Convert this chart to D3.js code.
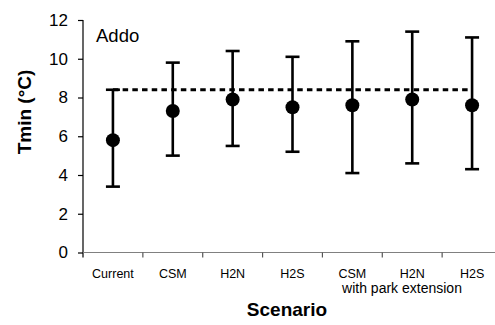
<!DOCTYPE html>
<html>
<head>
<meta charset="utf-8">
<script src="https://cdn.jsdelivr.net/npm/d3@7"></script>
<style>
  body { margin: 0; background: #fff; }
  svg { display: block; font-family: "Liberation Sans", Arial, sans-serif; }
</style>
</head>
<body>
<div id="chart"></div>
<script>
(function () {
    "use strict";
    // scenario data
    var categories = ["Current", "CSM", "H2N", "H2S", "CSM2", "H2N2", "H2S2"];
    var labels = ["Current", "CSM", "H2N", "H2S", "CSM", "H2N", "H2S"];
    var means = [5.8, 7.3, 7.9, 7.5, 7.6, 7.9, 7.6];
    var lows = [3.4, 5.0, 5.5, 5.2, 4.1, 4.6, 4.3];
    var highs = [8.4, 9.8, 10.4, 10.1, 10.9, 11.4, 11.1];
    var yTicks = [0, 2, 4, 6, 8, 10, 12];
    var refLine = 8.4;

    var w = 495, h = 325;
    var left = 83, right = 502, top = 20, bottom = 252.5;

    var svg = d3.select('#chart').append('svg').attr('width', w).attr('height', h);

    var x = d3.scaleBand().domain(categories).range([left, right]);
    var y = d3.scaleLinear().domain([0, 12]).range([bottom, top]);

    // y axis
    var yAxis = svg.append('g').attr('transform', 'translate(' + left + ',0)')
        .call(d3.axisLeft(y).tickValues(yTicks).tickSize(5).tickSizeOuter(0).tickPadding(10));
    yAxis.select('.domain').attr('stroke', '#000').attr('stroke-width', 1.2)
        .attr('d', 'M0,' + top + 'V' + (bottom + 5));
    yAxis.selectAll('.tick line').attr('stroke', '#000').attr('stroke-width', 1.2);
    yAxis.selectAll('.tick text').attr('font-size', 17).attr('fill', '#000')
        .attr('font-family', '"Liberation Sans", Arial, sans-serif');

    // x axis: line and ticks on band edges
    svg.append('line').attr('x1', left).attr('x2', right).attr('y1', bottom).attr('y2', bottom)
        .attr('stroke', '#808080').attr('stroke-width', 1.2);
    svg.selectAll('.xtick').data(categories.slice(1)).enter().append('line')
        .attr('class', 'xtick')
        .attr('x1', function (d) { return x(d); })
        .attr('x2', function (d) { return x(d); })
        .attr('y1', bottom).attr('y2', bottom + 5)
        .attr('stroke', '#555').attr('stroke-width', 1.2);

    svg.selectAll('.xlabel').data(categories).enter().append('text')
        .attr('class', 'xlabel')
        .attr('x', function (d) { return x(d) + x.bandwidth() / 2; })
        .attr('y', 278)
        .attr('text-anchor', 'middle')
        .attr('font-size', 12.5)
        .text(function (d, i) { return labels[i]; });

    svg.append('text').attr('x', 402).attr('y', 293).attr('text-anchor', 'middle')
        .attr('font-size', 14).text('with park extension');

    svg.append('text').attr('x', 287).attr('y', 316).attr('text-anchor', 'middle')
        .attr('font-size', 19).attr('font-weight', 'bold').text('Scenario');

    svg.append('text').attr('transform', 'translate(31,112) rotate(-90)')
        .attr('text-anchor', 'middle').attr('font-size', 19).attr('font-weight', 'bold')
        .text('Tmin (°C)');

    svg.append('text').attr('x', 96).attr('y', 42).attr('font-size', 18.5).text('Addo');

    var cx = function (d) { return x(d) + x.bandwidth() / 2; };

    // dashed reference line
    svg.append('line')
        .attr('x1', cx(categories[0])).attr('x2', cx(categories[categories.length - 1]))
        .attr('y1', y(refLine)).attr('y2', y(refLine))
        .attr('stroke', '#000').attr('stroke-width', 3).attr('stroke-dasharray', '5.5,4.2');

    // error bars
    var cap = 7;
    var bars = svg.selectAll('.err').data(categories).enter().append('g').attr('class', 'err');
    bars.append('line')
        .attr('x1', cx).attr('x2', cx)
        .attr('y1', function (d, i) { return y(lows[i]); })
        .attr('y2', function (d, i) { return y(highs[i]); })
        .attr('stroke', '#000').attr('stroke-width', 2.6);
    bars.append('line')
        .attr('x1', function (d) { return cx(d) - cap; }).attr('x2', function (d) { return cx(d) + cap; })
        .attr('y1', function (d, i) { return y(highs[i]); })
        .attr('y2', function (d, i) { return y(highs[i]); })
        .attr('stroke', '#000').attr('stroke-width', 2.6);
    bars.append('line')
        .attr('x1', function (d) { return cx(d) - cap; }).attr('x2', function (d) { return cx(d) + cap; })
        .attr('y1', function (d, i) { return y(lows[i]); })
        .attr('y2', function (d, i) { return y(lows[i]); })
        .attr('stroke', '#000').attr('stroke-width', 2.6);

    svg.selectAll('.pt').data(categories).enter().append('circle')
        .attr('class', 'pt')
        .attr('cx', cx)
        .attr('cy', function (d, i) { return y(means[i]); })
        .attr('r', 7).attr('fill', '#000');
}());
</script>
</body>
</html>
